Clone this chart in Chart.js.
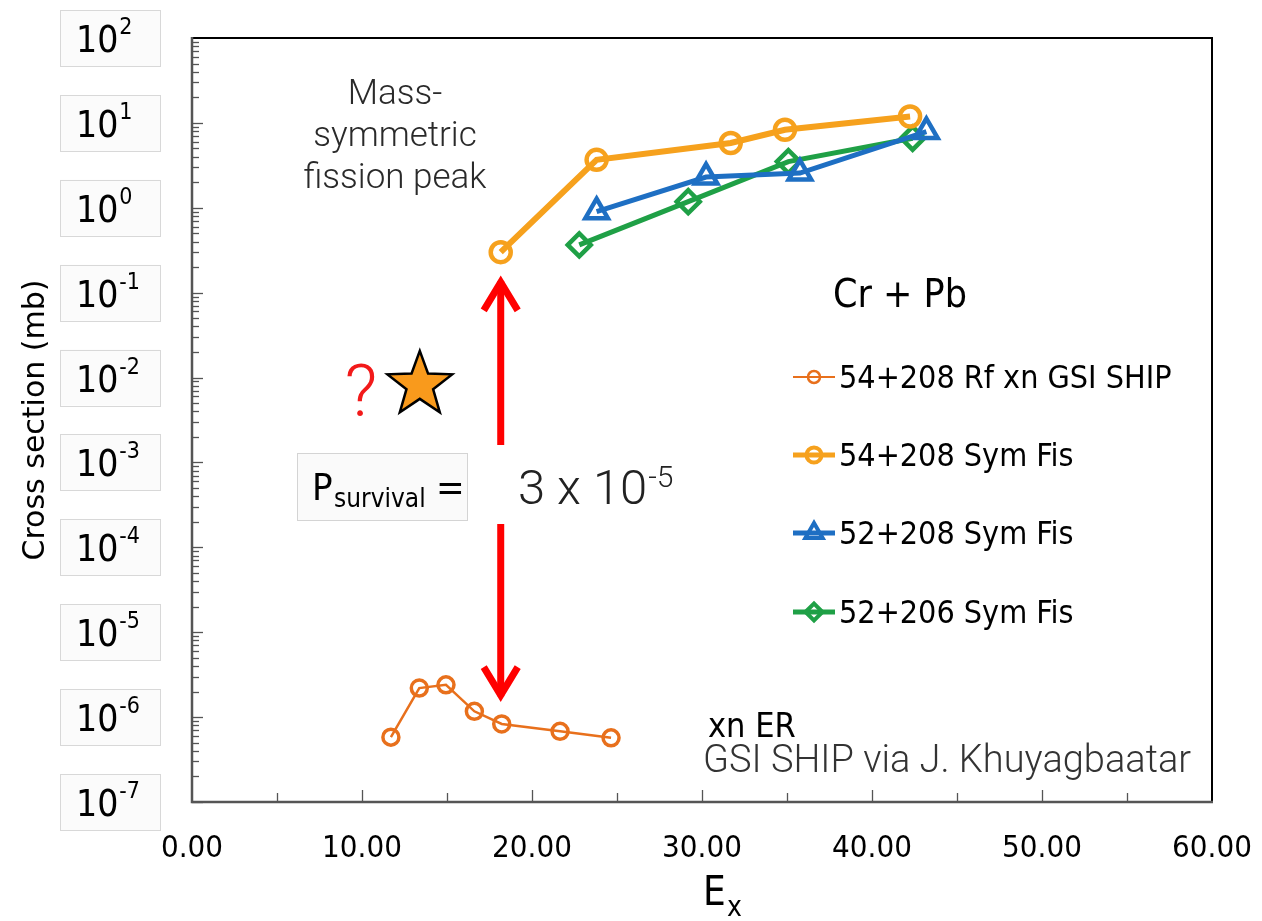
<!DOCTYPE html>
<html>
<head>
<meta charset="utf-8">
<script src="https://cdn.jsdelivr.net/npm/chart.js@4.4.1/dist/chart.umd.min.js"></script>
<style>
  html, body { margin: 0; padding: 0; background: #fff; }
  canvas { display: block; }
</style>
</head>
<body>
<canvas id="c" width="1262" height="921"></canvas>
<script>
// Excitation energy E_x and cross sections (mb) for Cr + Pb reactions
const rfXnEx    = [11.7, 13.37, 14.94, 16.61, 18.22, 21.65, 24.65];
const rfXnSig   = [5.8e-7, 2.2e-6, 2.4e-6, 1.17e-6, 8.3e-7, 6.8e-7, 5.7e-7];
const sym54Ex   = [18.16, 23.8, 31.69, 34.88, 42.24];
const sym54Sig  = [0.30, 3.67, 5.8, 8.3, 11.9];
const sym52Ex   = [23.8, 30.24, 35.76, 43.2];
const sym52Sig  = [0.90, 2.3, 2.56, 7.9];
const sym206Ex  = [22.78, 29.19, 35.08, 42.39];
const sym206Sig = [0.365, 1.18, 3.5, 6.6];
const seriesLabels = ['54+208 Rf xn GSI SHIP', '54+208 Sym Fis', '52+208 Sym Fis', '52+206 Sym Fis'];
const xTickValues = [0, 10, 20, 30, 40, 50, 60];
const yDecades = [2, 1, 0, -1, -2, -3, -4, -5, -6, -7];
// survival probability arrow between fission peak and xn ER
const arrowEx = 18.16;
const arrowTopSig = 0.16;
const arrowBottomSig = 1.5e-6;
// star marking the unknown point
const starEx = 13.4;
const starSig = 8.2e-3;

const COND = '"DejaVu Sans Condensed", "DejaVu Sans", sans-serif';
const WIDE = '"DejaVu Sans", sans-serif';
const LIGHT = 'Roboto, "Open Sans", sans-serif';

const markers = {
  circle(ctx, x, y, r) { ctx.beginPath(); ctx.arc(x, y, r, 0, Math.PI * 2); ctx.stroke(); },
  triangle(ctx, x, y, r) {
    ctx.beginPath();
    for (let i = 0; i < 3; i++) {
      const a = i * 2 * Math.PI / 3;
      const px = x + Math.sin(a) * r, py = y - Math.cos(a) * r;
      i ? ctx.lineTo(px, py) : ctx.moveTo(px, py);
    }
    ctx.closePath(); ctx.stroke();
  },
  rectRot(ctx, x, y, r) {
    ctx.beginPath();
    ctx.moveTo(x - r, y); ctx.lineTo(x, y - r); ctx.lineTo(x + r, y); ctx.lineTo(x, y + r);
    ctx.closePath(); ctx.stroke();
  }
};

function series(label, xs, ys, color, lw, style, r, bw) {
  return {
    label,
    data: xs.map((x, i) => ({ x, y: ys[i] })),
    borderColor: color,
    backgroundColor: 'rgba(0,0,0,0)',
    borderWidth: lw,
    pointStyle: style,
    pointRadius: r,
    pointHoverRadius: r,
    pointBorderWidth: bw,
    pointBorderColor: color,
    pointBackgroundColor: 'rgba(0,0,0,0)',
    tension: 0,
    fill: false
  };
}

const datasets = [
  series(seriesLabels[0], rfXnEx, rfXnSig, '#E8701C', 2.5, 'circle', 8, 3.5),
  series(seriesLabels[1], sym54Ex, sym54Sig, '#F6A11D', 6, 'circle', 10, 4.5),
  series(seriesLabels[2], sym52Ex, sym52Sig, '#1E6FC3', 5, 'triangle', 13, 4.5),
  series(seriesLabels[3], sym206Ex, sym206Sig, '#1FA046', 5, 'rectRot', 11.5, 4.5)
];

function drawArrowHead(ctx, x, tipY, dir) {
  // dir = -1 for upward tip, +1 for downward tip
  const apex = tipY - dir * 7;
  ctx.beginPath();
  ctx.moveTo(x - 17, apex - dir * 28);
  ctx.lineTo(x, apex);
  ctx.lineTo(x + 17, apex - dir * 28);
  ctx.stroke();
}

function drawStar(ctx, cx, cy, R, r) {
  ctx.beginPath();
  for (let i = 0; i < 10; i++) {
    const rad = i % 2 ? r : R;
    const a = -Math.PI / 2 + i * Math.PI / 5;
    const px = cx + Math.cos(a) * rad, py = cy + Math.sin(a) * rad;
    i ? ctx.lineTo(px, py) : ctx.moveTo(px, py);
  }
  ctx.closePath();
}

const decorations = {
  id: 'decorations',
  beforeDatasetsDraw(chart) {
    const { ctx, scales: { x, y } } = chart;
    ctx.save();
    // red double-headed arrow
    const ax = x.getPixelForValue(arrowEx);
    const top = y.getPixelForValue(arrowTopSig);
    const bot = y.getPixelForValue(arrowBottomSig);
    ctx.strokeStyle = '#FF0000';
    ctx.lineWidth = 7;
    ctx.lineJoin = 'miter';
    ctx.miterLimit = 10;
    ctx.beginPath();
    ctx.moveTo(ax, top + 6);
    ctx.lineTo(ax, bot - 6);
    ctx.stroke();
    drawArrowHead(ctx, ax, top, -1);
    drawArrowHead(ctx, ax, bot, 1);

    // P_survival label box
    ctx.fillStyle = '#fafafa';
    ctx.strokeStyle = '#d4d4d4';
    ctx.lineWidth = 1;
    ctx.fillRect(297, 453, 171, 68);
    ctx.strokeRect(297.5, 453.5, 170, 67);
    ctx.fillStyle = '#000';
    ctx.textBaseline = 'alphabetic';
    ctx.textAlign = 'left';
    ctx.font = '38px ' + COND;
    ctx.fillText('P', 312, 500);
    ctx.font = '26px ' + COND;
    ctx.fillText('survival', 334, 507);
    ctx.font = '38px ' + COND;
    ctx.fillText('=', 436, 500);

    // value of the survival probability on a white patch
    ctx.fillStyle = '#fff';
    ctx.fillRect(469, 445, 222, 79);
    ctx.fillStyle = '#222';
    ctx.font = '300 49px ' + LIGHT;
    ctx.fillText('3 x 10', 518, 504);
    const w = ctx.measureText('3 x 10').width;
    ctx.font = '300 30px ' + LIGHT;
    ctx.fillText('-5', 518 + w + 1, 487);

    // question mark and star
    const sx = x.getPixelForValue(starEx), sy = y.getPixelForValue(starSig);
    ctx.fillStyle = '#F21A1A';
    ctx.font = '300 72px ' + LIGHT;
    ctx.textAlign = 'center';
    ctx.fillText('?', sx - 59, sy + 31);
    drawStar(ctx, sx, sy, 34, 14);
    ctx.fillStyle = '#F99A1C';
    ctx.fill();
    ctx.strokeStyle = '#000';
    ctx.lineWidth = 2.5;
    ctx.lineJoin = 'miter';
    ctx.stroke();

    // text annotations
    ctx.fillStyle = '#2a2a2a';
    ctx.font = '300 35px ' + LIGHT;
    ctx.textAlign = 'center';
    ctx.fillText('Mass-', 395, 104);
    ctx.fillText('symmetric', 395, 146);
    ctx.fillText('fission peak', 395, 188);

    ctx.textAlign = 'left';
    ctx.fillStyle = '#000';
    ctx.font = '34px ' + COND;
    ctx.fillText('xn ER', 708, 737);
    ctx.fillStyle = '#333';
    ctx.font = '300 38px ' + LIGHT;
    ctx.fillText('GSI SHIP via J. Khuyagbaatar', 703, 772);
    ctx.restore();
  },
  afterDraw(chart) {
    const { ctx, chartArea: a, scales: { x, y } } = chart;
    ctx.save();
    // plot frame
    ctx.lineCap = 'butt';
    ctx.strokeStyle = '#000';
    ctx.lineWidth = 2;
    ctx.beginPath();
    ctx.moveTo(a.left, a.top); ctx.lineTo(a.right, a.top); ctx.lineTo(a.right, a.bottom);
    ctx.stroke();
    ctx.strokeStyle = '#555';
    ctx.lineWidth = 2.5;
    ctx.beginPath();
    ctx.moveTo(a.left, a.top - 1); ctx.lineTo(a.left, a.bottom); ctx.lineTo(a.right + 1, a.bottom);
    ctx.stroke();

    // inward log ticks on the y axis
    ctx.lineWidth = 1.3;
    ctx.strokeStyle = '#555';
    for (let d = -7; d <= 1; d++) {
      for (let m = 1; m <= 9; m++) {
        const py = Math.round(y.getPixelForValue(m * Math.pow(10, d))) + 0.5;
        const len = m === 1 ? 11 : 7;
        ctx.beginPath(); ctx.moveTo(a.left, py); ctx.lineTo(a.left + len, py); ctx.stroke();
      }
    }
    // inward ticks on the x axis every 5 units
    for (let v = 5; v < 60; v += 5) {
      const px = Math.round(x.getPixelForValue(v)) + 0.5;
      const len = v % 10 === 0 ? 12 : 9;
      ctx.beginPath(); ctx.moveTo(px, a.bottom); ctx.lineTo(px, a.bottom - len); ctx.stroke();
    }

    // x tick labels
    ctx.fillStyle = '#000';
    ctx.textAlign = 'center';
    ctx.textBaseline = 'middle';
    ctx.font = '31px ' + COND;
    xTickValues.forEach(v => ctx.fillText(v.toFixed(2), x.getPixelForValue(v), 849));

    // boxed power-of-ten labels on the y axis
    ctx.textAlign = 'left';
    ctx.textBaseline = 'alphabetic';
    yDecades.forEach(k => {
      const py = y.getPixelForValue(Math.pow(10, k));
      ctx.fillStyle = '#fbfbfb';
      ctx.fillRect(60, py - 28, 100, 56);
      ctx.strokeStyle = '#d8d8d8';
      ctx.lineWidth = 1;
      ctx.strokeRect(60.5, Math.round(py - 28) + 0.5, 100, 56);
      ctx.fillStyle = '#000';
      ctx.font = '37px ' + COND;
      ctx.fillText('10', 76, py + 14);
      const w = ctx.measureText('10').width;
      ctx.font = '23px ' + COND;
      ctx.fillText(String(k), 76 + w + 1, py - 4);
    });

    // axis titles
    ctx.fillStyle = '#000';
    ctx.save();
    ctx.translate(36, 420);
    ctx.rotate(-Math.PI / 2);
    ctx.textAlign = 'center';
    ctx.textBaseline = 'middle';
    ctx.font = '30px ' + WIDE;
    ctx.fillText('Cross section (mb)', 0, 0);
    ctx.restore();
    ctx.textAlign = 'left';
    ctx.textBaseline = 'alphabetic';
    ctx.font = '40px ' + COND;
    ctx.fillText('E', 703, 905);
    ctx.font = '28px ' + COND;
    ctx.fillText('x', 727, 916);

    // legend
    ctx.font = '39px ' + COND;
    ctx.fillText('Cr + Pb', 833, 307);
    const rows = [377, 455, 533, 612];
    const legendMarker = [
      { r: 6, bw: 2.5, lw: 2 },
      { r: 7.5, bw: 4, lw: 5 },
      { r: 10, bw: 4, lw: 5 },
      { r: 8.5, bw: 4, lw: 5 }
    ];
    chart.data.datasets.forEach((ds, i) => {
      const cy = rows[i];
      const m = legendMarker[i];
      ctx.strokeStyle = ds.borderColor;
      ctx.lineWidth = m.lw;
      ctx.beginPath(); ctx.moveTo(793, cy); ctx.lineTo(835, cy); ctx.stroke();
      ctx.lineWidth = m.bw;
      markers[ds.pointStyle](ctx, 814, cy, m.r);
      ctx.fillStyle = '#000';
      ctx.font = '32px ' + COND;
      ctx.fillText(ds.label, 839, cy + 11);
    });
    ctx.restore();
  }
};

new Chart(document.getElementById('c'), {
  type: 'line',
  data: { datasets },
  options: {
    responsive: false,
    animation: false,
    devicePixelRatio: 1,
    layout: { padding: { left: 0, top: 38, right: 50, bottom: 0 } },
    plugins: { legend: { display: false }, tooltip: { enabled: false }, title: { display: false } },
    scales: {
      x: {
        type: 'linear',
        min: 0,
        max: 60,
        afterBuildTicks: s => { s.ticks = xTickValues.map(v => ({ value: v })); },
        afterFit: s => { s.height = 119; },
        ticks: { display: false },
        grid: { display: false, drawTicks: false },
        border: { display: false }
      },
      y: {
        type: 'logarithmic',
        min: 1e-7,
        max: 1e2,
        afterFit: s => { s.width = 192; },
        ticks: { display: false },
        grid: { display: false, drawTicks: false },
        border: { display: false }
      }
    }
  },
  plugins: [decorations]
});
</script>
</body>
</html>
